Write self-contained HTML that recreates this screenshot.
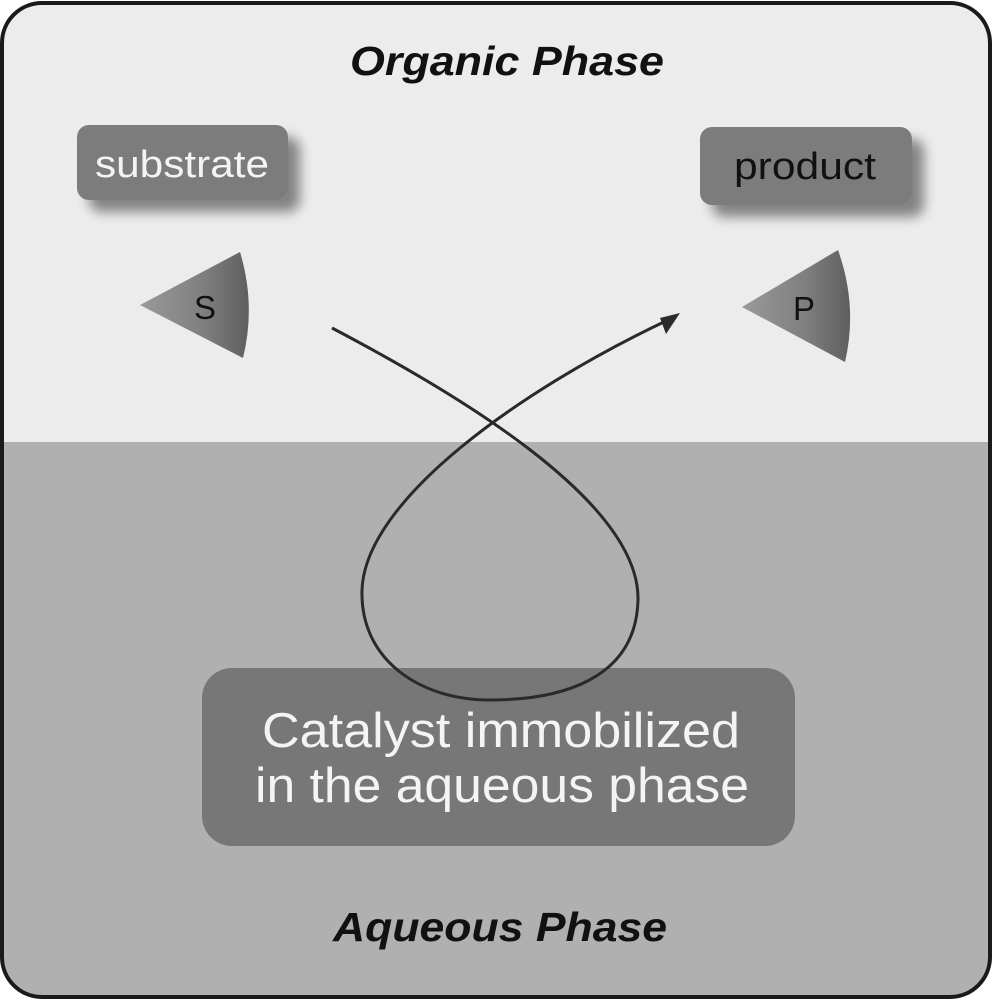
<!DOCTYPE html>
<html><head><meta charset="utf-8"><style>
html,body{margin:0;padding:0;background:#fff;}
svg{display:block;}
text{font-family:"Liberation Sans",Arial,sans-serif;}
</style></head><body>
<svg width="993" height="1000" viewBox="0 0 993 1000" xmlns="http://www.w3.org/2000/svg">
<defs>
<clipPath id="frame"><rect x="2" y="3" width="988" height="994" rx="40"/></clipPath>
<filter id="sh" x="-20%" y="-30%" width="150%" height="180%"><feGaussianBlur in="SourceAlpha" stdDeviation="6"/><feOffset dx="12" dy="12"/><feComponentTransfer><feFuncA type="linear" slope="0.45"/></feComponentTransfer><feMerge><feMergeNode/><feMergeNode in="SourceGraphic"/></feMerge></filter>
<linearGradient id="cone" x1="0" y1="0" x2="1" y2="0"><stop offset="0" stop-color="#9a9a9a"/><stop offset="0.6" stop-color="#7e7e7e"/><stop offset="1" stop-color="#5e5e5e"/></linearGradient>
</defs>
<g clip-path="url(#frame)">
<rect x="0" y="0" width="993" height="442" fill="#ececec"/>
<rect x="0" y="442" width="993" height="560" fill="#b0b0b0"/>
</g>
<rect x="2" y="3" width="988" height="994" rx="40" fill="none" stroke="#1a1a1a" stroke-width="4"/>

<text x="507" y="75" font-size="41" font-weight="bold" font-style="italic" text-anchor="middle" textLength="314" lengthAdjust="spacingAndGlyphs" fill="#111">Organic Phase</text>
<text x="500" y="941" font-size="41" font-weight="bold" font-style="italic" text-anchor="middle" textLength="334" lengthAdjust="spacingAndGlyphs" fill="#111">Aqueous Phase</text>

<rect x="77" y="125" width="211" height="75" rx="12" fill="#7c7c7c" filter="url(#sh)"/>
<text x="182" y="177" font-size="38" text-anchor="middle" textLength="174" lengthAdjust="spacingAndGlyphs" fill="#f4f4f4">substrate</text>
<rect x="700" y="127" width="212" height="78" rx="12" fill="#7c7c7c" filter="url(#sh)"/>
<text x="805" y="179" font-size="38" text-anchor="middle" textLength="142" lengthAdjust="spacingAndGlyphs" fill="#111">product</text>

<path d="M140,305 L240,252 Q256,305 243,358 Z" fill="url(#cone)"/>
<text x="205" y="319" font-size="33" text-anchor="middle" fill="#111">S</text>
<path d="M742,307 L838,250 Q858,306 845,362 Z" fill="url(#cone)"/>
<text x="804" y="320" font-size="33" text-anchor="middle" fill="#111">P</text>

<rect x="202" y="668" width="593" height="178" rx="30" fill="#777"/>
<text x="501" y="747" font-size="49" text-anchor="middle" textLength="478" lengthAdjust="spacingAndGlyphs" fill="#f4f4f4">Catalyst immobilized</text>
<text x="502" y="802" font-size="49" text-anchor="middle" textLength="494" lengthAdjust="spacingAndGlyphs" fill="#f4f4f4">in the aqueous phase</text>

<path d="M332,328 C450,390 640,500 638,600 C636,680 560,700 490,700 C420,700 360,660 362,590 C365,500 520,390 668,320" fill="none" stroke="#2a2a2a" stroke-width="3"/>
<path d="M680,313 L660,318 L666,334 Z" fill="#2a2a2a"/>
</svg>
</body></html>
